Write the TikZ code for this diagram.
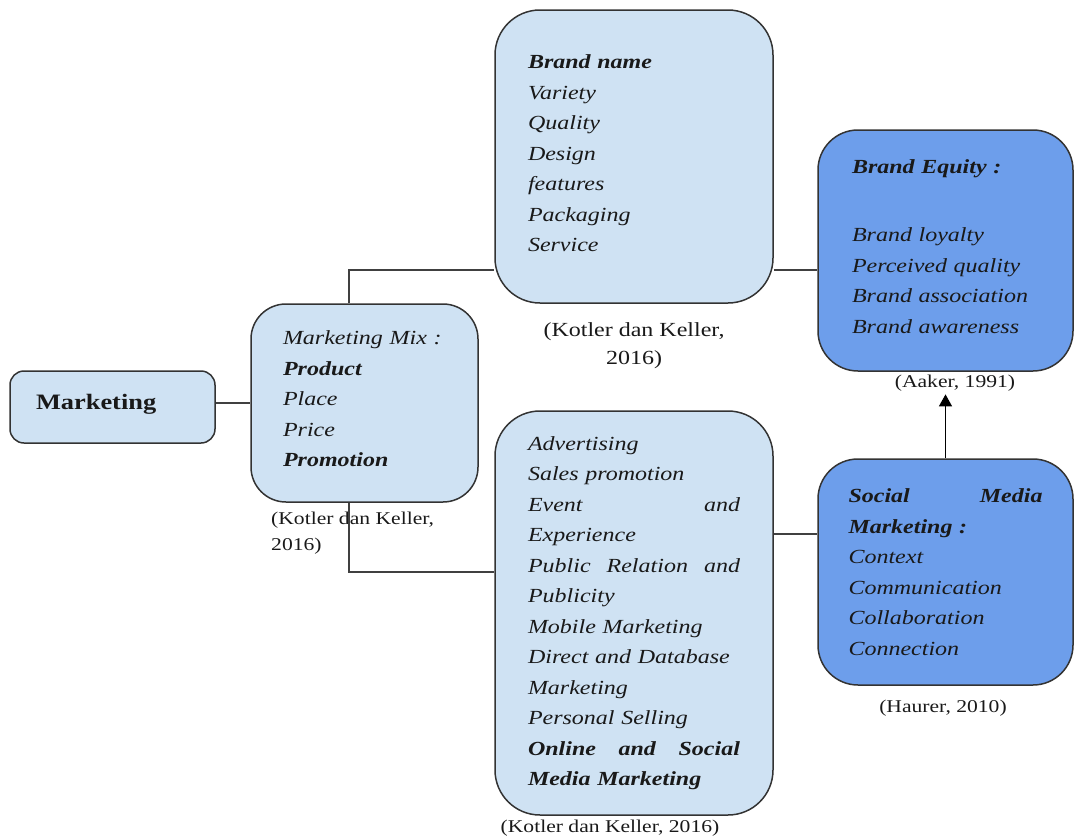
\documentclass[tikz,border=0pt]{standalone}
\usepackage{fontspec}
\setmainfont{Liberation Serif}[FakeStretch=1.2]
\usetikzlibrary{positioning,arrows.meta}

\definecolor{boxlight}{HTML}{CFE2F3}
\definecolor{boxdark}{HTML}{6D9EEB}
\def\boxfont{\fontsize{20}{30.5}\selectfont}
\def\citefont{\fontsize{18}{25.5}\selectfont}
\def\lift#1{\par\vskip #1\hrule height 0pt width 0pt\relax}

\begin{document}
\begin{tikzpicture}[x=1pt, y=-1pt,
  box/.style={draw=black!80, line width=1.5pt, fill=boxlight, rounded corners=45pt,
    align=left, font=\boxfont\itshape, text=black!90, inner ysep=0pt},
  darkbox/.style={box, fill=boxdark, rounded corners=40pt},
  cite/.style={font=\citefont, inner sep=0pt, text=black!90},
  link/.style={draw=black!75, line width=1.3pt}]
  \useasboundingbox (0,0) rectangle (1074,838);

  % left part
  \node[box, rounded corners=14pt, font=\fontsize{22}{30}\selectfont\bfseries,
    text width=153pt, inner xsep=26pt, minimum height=72pt] (mkt) at (112.5,407)
    {Marketing\lift{5pt}};
  \node[box, rounded corners=35pt, text width=163pt, inner xsep=32pt,
    minimum height=198pt] (mix) at (364.5,403)
    {Marketing Mix :\\ \textbf{Product}\\ Place\\ Price\\ \textbf{Promotion}\lift{8pt}};
  \node[cite, anchor=north west, align=left] (kkmix) at (271,512) {(Kotler dan Keller,\\2016)};

  % middle column
  \node[box, text width=212pt, inner xsep=33pt, minimum height=293pt] (prod) at (634,156.5)
    {\textbf{Brand name}\\ Variety\\ Quality\\ Design\\ features\\ Packaging\\ Service\lift{6pt}};
  \node[cite, font=\fontsize{20}{28}\selectfont, align=center, below=19pt of prod] (kkprod)
    {(Kotler dan Keller,\\2016)};
  \node[box, text width=212pt, inner xsep=33pt, minimum height=404pt] (promo) at (634,613)
    {Advertising\\ Sales promotion\\ Event \hfill and\\ Experience\\
     Public \hfill Relation \hfill and\\ Publicity\\ Mobile Marketing\\
     Direct and Database\\ Marketing\\ Personal Selling\\
     \textbf{Online \hfill and \hfill Social}\\ \textbf{Media Marketing}};
  \node[cite] (kkpromo) at (610,828) {(Kotler dan Keller, 2016)};

  % right column
  \node[darkbox, text width=187pt, inner xsep=34pt, minimum height=241pt] (eq) at (945.5,250.5)
    {\textbf{Brand Equity :}\\[38pt] Brand loyalty\\ Perceived quality\\
     Brand association\\ Brand awareness\lift{8pt}};
  \node[cite] (aaker) at (955,383) {(Aaker, 1991)};
  \node[darkbox, text width=194pt, inner xsep=30.5pt, minimum height=226pt] (soc) at (945.5,572)
    {\textbf{Social \hfill Media}\\ \textbf{Marketing :}\\ Context\\ Communication\\
     Collaboration\\ Connection};
  \node[cite] (haurer) at (943,708) {(Haurer, 2010)};

  % connectors
  \coordinate (up) at (349,270);
  \coordinate (down) at (349,572);
  \coordinate (side) at (795,534);
  \draw[link] (mkt.east |- mix.west) -- (mix.west);
  \draw[link] (mix.north -| up) -- (up) -- (up -| prod.west);
  \draw[link] (mix.south -| down) -- (down) -- (down -| promo.west);
  \draw[link] (up -| prod.east) -- (up -| eq.west);
  \draw[link] (side -| promo.east) -- (side -| soc.west);
  \draw[link, draw=black, -{Triangle[width=13pt,length=12pt]}, shorten >=3pt]
    (soc.north) -- (soc.north |- aaker.south);
\end{tikzpicture}
\end{document}
